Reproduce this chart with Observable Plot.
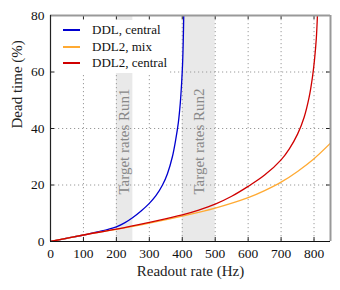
<!DOCTYPE html>
<html>
<head>
<meta charset="utf-8">
<script src="https://cdn.jsdelivr.net/npm/d3@7"></script>
<script src="https://cdn.jsdelivr.net/npm/@observablehq/plot@0.6"></script>
<style>
  html, body { margin: 0; padding: 0; background: #fff; }
  #wrap { position: relative; width: 340px; height: 290px; font-family: "Liberation Serif", serif; }
  #wrap svg { position: absolute; left: 0; top: 0; }
  #wrap svg text { font-family: "Liberation Serif", serif; }
  #legend { position: absolute; left: 55px; top: 20px; width: 114px; height: 53px; background: #fff; font-family: "Liberation Serif", serif; font-size: 13px; color: #111; }
  .row { position: absolute; left: 0; height: 16px; width: 114px; }
  .sw { position: absolute; left: 8px; top: 7px; width: 17px; height: 2px; }
  .lb { position: absolute; left: 37px; top: 0; line-height: 16px; white-space: nowrap; font-family: "Liberation Serif", serif; }
</style>
</head>
<body>
<div id="wrap"><div id="legend"></div></div>
<script>
// Data
const seriesNames = ["DDL, central", "DDL2, mix", "DDL2, central"];
const seriesColors = ["#0000d0", "#ffaa33", "#d00000"];

const ddlCentralRate = [0, 50, 100, 150, 175, 200, 225, 250, 275, 300, 320, 340, 355, 370, 380, 388, 394, 398, 401, 403, 404.5, 405.5];
const ddlCentralDead = [0, 1.15, 2.3, 3.6, 4.3, 5.2, 6.6, 8.5, 10.8, 13.5, 16.2, 20, 24, 30, 36, 42, 49, 56, 63, 71, 80, 88];

const ddl2MixRate = [0, 100, 200, 300, 400, 500, 600, 650, 700, 750, 800, 850];
const ddl2MixDead = [0, 2.3, 4.3, 6.5, 9.0, 11.8, 15.5, 18, 21, 24.8, 29.3, 34.8];

const ddl2CentralRate = [0, 100, 200, 300, 400, 450, 500, 550, 600, 650, 700, 725, 750, 770, 785, 795, 802, 807, 810, 812];
const ddl2CentralDead = [0, 2.3, 4.4, 6.8, 9.4, 11.1, 13.2, 16, 19.5, 23.5, 28.9, 32.8, 38, 44, 51, 58, 65, 72, 79, 85];

const runNames = ["Run1", "Run2"];
const runStart = [200, 400];
const runEnd = [250, 500];

const xTicks = [0, 100, 200, 300, 400, 500, 600, 700, 800];
const yTicks = [0, 20, 40, 60, 80];
const xDomain = [0, 850];
const yDomain = [0, 80];

const toPts = (xs, ys) => xs.map((x, i) => ({x, y: ys[i]}));
const series = [
  toPts(ddlCentralRate, ddlCentralDead),
  toPts(ddl2MixRate, ddl2MixDead),
  toPts(ddl2CentralRate, ddl2CentralDead)
];
const runs = runNames.map((n, i) => ({name: n, x1: runStart[i], x2: runEnd[i]}));

const W = 340, H = 290, mt = 15, mb = 49, ml = 50, mr = 10;
const ph = H - mt - mb, pw = W - ml - mr;
const tk = 4;
const FONT = "Liberation Serif";

const plot = Plot.plot({
  width: W, height: H,
  marginTop: mt, marginBottom: mb, marginLeft: ml, marginRight: mr,
  style: {fontFamily: "'Liberation Serif', serif", fontSize: "13.5px", color: "#111", background: "#fff"},
  x: {domain: xDomain, ticks: xTicks},
  y: {domain: yDomain, ticks: yTicks},
  marks: [
    Plot.rect(runs, {x1: "x1", x2: "x2", fill: "#e9e9e9"}),
    Plot.gridX(xTicks, {stroke: "#9a9a9a", strokeOpacity: 1, strokeDasharray: "1.2,2.8"}),
    Plot.gridY(yTicks, {stroke: "#9a9a9a", strokeOpacity: 1, strokeDasharray: "1.2,2.8"}),
    Plot.text(runs, {x: d => (d.x1 + d.x2) / 2, frameAnchor: "middle", dy: 13, rotate: -90,
      text: d => "Target rates " + d.name, fill: "#888", fontSize: 15, fontFamily: FONT}),
    // inward ticks
    Plot.tickX(xTicks, {x: d => d, insetTop: ph - tk, stroke: "#222", strokeWidth: 1}),
    Plot.tickX(xTicks, {x: d => d, insetBottom: ph - tk, stroke: "#222", strokeWidth: 1}),
    Plot.tickY(yTicks, {y: d => d, insetRight: pw - tk, stroke: "#222", strokeWidth: 1}),
    Plot.tickY(yTicks, {y: d => d, insetLeft: pw - tk, stroke: "#222", strokeWidth: 1}),
    ...series.map((s, i) => Plot.line(s, {x: "x", y: "y", stroke: seriesColors[i], strokeWidth: 1.3, curve: "catmull-rom", clip: true})),
    Plot.ruleY([yDomain[1]], {stroke: "#999", strokeWidth: 1.8}),
    Plot.ruleX([xDomain[1]], {stroke: "#999", strokeWidth: 2}),
    Plot.ruleX([xDomain[0]], {stroke: "#222", strokeWidth: 1.2}),
    Plot.ruleY([yDomain[0]], {stroke: "#111", strokeWidth: 1.2}),
    Plot.axisX(xTicks, {tickSize: 0, tickPadding: 7, label: null, fontSize: 13.5, fontFamily: FONT, fill: "#111"}),
    Plot.axisY(yTicks, {tickSize: 0, tickPadding: 6, label: null, fontSize: 13.5, fontFamily: FONT, fill: "#111"}),
    Plot.text(["Readout rate (Hz)"], {frameAnchor: "bottom", dy: 30, lineAnchor: "middle", fontSize: 15, fill: "#222", fontFamily: FONT}),
    Plot.text(["Dead time (%)"], {frameAnchor: "left", dx: -33, rotate: -90, fontSize: 15, fill: "#222", fontFamily: FONT})
  ]
});
document.getElementById("wrap").prepend(plot);

const legend = document.getElementById("legend");
seriesNames.forEach((n, i) => {
  const row = document.createElement("div");
  row.className = "row";
  row.style.top = (2 + i * 16.5) + "px";
  const sw = document.createElement("div");
  sw.className = "sw";
  sw.style.backgroundColor = seriesColors[i];
  const lb = document.createElement("div");
  lb.className = "lb";
  lb.textContent = n;
  row.appendChild(sw); row.appendChild(lb);
  legend.appendChild(row);
});
</script>
</body>
</html>
